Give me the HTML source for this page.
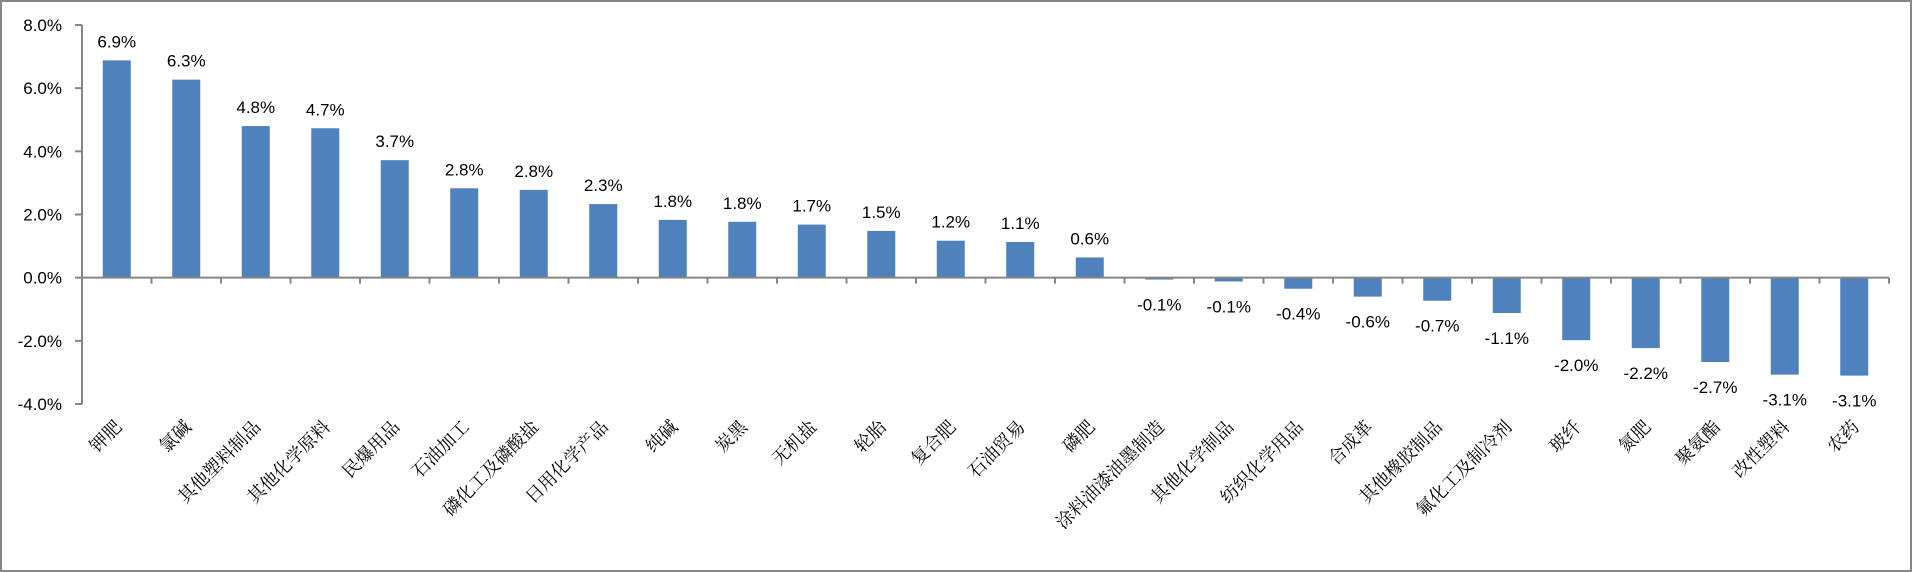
<!DOCTYPE html>
<html><head><meta charset="utf-8">
<style>
html,body{margin:0;padding:0;background:#fff;}
svg{display:block;}
.t{font-family:"Liberation Sans","Noto Sans CJK SC",sans-serif;font-size:17px;fill:#000;}
.c{font-family:"Liberation Serif","Noto Serif CJK SC",serif;font-size:18px;fill:#000;}
</style></head>
<body>
<svg id="chart" width="1912" height="572">
<rect x="1" y="1" width="1910" height="570" fill="#fff" stroke="#868686" stroke-width="2"/>
<g id="g"></g>
</svg>
<script>
const categories=["钾肥","氯碱","其他塑料制品","其他化学原料","民爆用品","石油加工","磷化工及磷酸盐","日用化学产品","纯碱","炭黑","无机盐","轮胎","复合肥","石油贸易","磷肥","涂料油漆油墨制造","其他化学制品","纺织化学用品","合成革","其他橡胶制品","氟化工及制冷剂","玻纤","氮肥","聚氨酯","改性塑料","农药"];
const values=[6.88,6.27,4.8,4.73,3.72,2.83,2.78,2.33,1.83,1.77,1.68,1.48,1.17,1.13,0.64,-0.06,-0.12,-0.35,-0.6,-0.73,-1.12,-1.98,-2.23,-2.67,-3.07,-3.1];
const valueLabels=["6.9%","6.3%","4.8%","4.7%","3.7%","2.8%","2.8%","2.3%","1.8%","1.8%","1.7%","1.5%","1.2%","1.1%","0.6%","-0.1%","-0.1%","-0.4%","-0.6%","-0.7%","-1.1%","-2.0%","-2.2%","-2.7%","-3.1%","-3.1%"];
const yTicks=[8,6,4,2,0,-2,-4];
const yTickLabels=["8.0%","6.0%","4.0%","2.0%","0.0%","-2.0%","-4.0%"];

const NS="http://www.w3.org/2000/svg";
const g=document.getElementById('g');
const X0=82,X1=1889,YMAX=8,YMIN=-4,PY0=25,PY1=404;
const band=(X1-X0)/categories.length;
const y=v=>PY0+(YMAX-v)*(PY1-PY0)/(YMAX-YMIN);
const xc=i=>X0+band*(i+0.5);
function mk(tag,attrs){const e=document.createElementNS(NS,tag);for(const k in attrs)e.setAttribute(k,attrs[k]);g.appendChild(e);return e;}

// y axis
let ax=mk('line',{x1:X0,y1:PY0,x2:X0,y2:PY1,stroke:'#868686','stroke-width':2});


yTicks.forEach((v,i)=>{
  let tk=mk('line',{x1:X0-7,y1:y(v),x2:X0,y2:y(v),stroke:'#868686','stroke-width':2});
  
  
  let t=mk('text',{x:X0-20,y:y(v)+6,'text-anchor':'end',class:'t'});
  t.textContent=yTickLabels[i];
  
  
});
// bars
values.forEach((v,i)=>{
  const top=Math.min(y(v),y(0)),h=Math.abs(y(v)-y(0));
  let r=mk('rect',{x:xc(i)-14,y:top,width:28,height:h,fill:'#4f81bd'});
  
  
  let t=mk('text',{x:xc(i),y:v>=0?y(v)-13:y(v)+31,'text-anchor':'middle',class:'t'});
  t.textContent=valueLabels[i];
  
  
  let c=mk('text',{x:xc(i)+6,y:428,'text-anchor':'end',class:'c',transform:'rotate(-45 '+(xc(i)+6)+' 428)'});
  c.textContent=categories[i];
  
  
});
// x axis
let xa=mk('line',{x1:X0,y1:y(0),x2:X1,y2:y(0),stroke:'#868686','stroke-width':2});


for(let i=1;i<=categories.length;i++){
  let tk=mk('line',{x1:X0+band*i,y1:y(0),x2:X0+band*i,y2:y(0)+6,stroke:'#868686','stroke-width':2});
  
  
}
</script>
</body></html>
